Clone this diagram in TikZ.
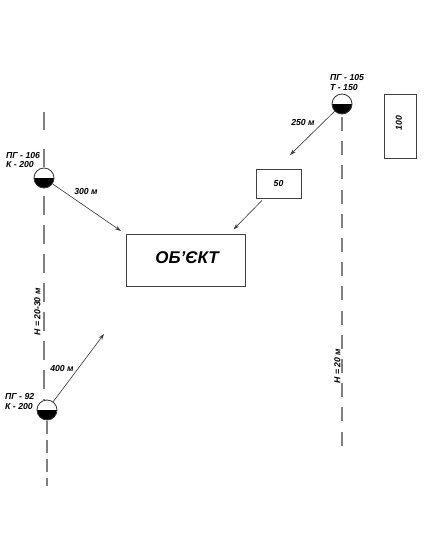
\documentclass[tikz,border=0pt]{standalone}
\usepackage{fontspec}
\setmainfont{Liberation Sans}[Ligatures=ResetAll]
\usetikzlibrary{arrows.meta}

\begin{document}
\begin{tikzpicture}[
    x=1pt, y=-1pt,
    font=\bfseries\itshape\fontsize{8.7}{9.2}\selectfont,
    background/.style={fill=white,draw=none},
    well/.style={draw=black!80,circle,fill=white,minimum size=20pt,inner sep=0pt,line width=0.8pt,
        path picture={\fill[black] (path picture bounding box.west) rectangle (path picture bounding box.south east);}},
    box/.style={draw=black!75,fill=white,line width=0.8pt,inner sep=0pt},
    arrow/.style={-{Stealth[length=6pt,width=4pt]},black!75,line width=0.65pt},
    dashline/.style={black!50,line width=1.3pt},
    note/.style={align=left,anchor=west,inner sep=0pt},
    dist/.style={inner sep=0pt}
]
\path[use as bounding box,background] (0,0) rectangle (434,549);

% free ends of the dashed lines
\coordinate (lefttop) at (44,112);
\coordinate (leftgap) at (44,168);
\coordinate (leftmid) at (44,196);
\coordinate (leftend) at (44,400);
\coordinate (lowerstart) at (47,421);
\coordinate (lowerend) at (47,486);
\coordinate (rightstart) at (342,117);
\coordinate (rightend) at (342,446);
\draw[dashline,dash pattern=on 18pt off 19pt] (lefttop) -- (leftgap);
\draw[dashline,dash pattern=on 19pt off 10pt] (leftmid) -- (leftend);
\draw[dashline,dash pattern=on 13pt off 6pt] (lowerstart) -- (lowerend);
\draw[dashline,dash pattern=on 14pt off 10.2pt] (rightstart) -- (rightend);

\node[well] (well106) at (44,178) {};
\node[well] (well105) at (342,104) {};
\node[well] (well92) at (47,410) {};

\node[box,minimum width=119pt,minimum height=52pt] (object) at (185.5,260) {};
\node[font=\bfseries\itshape\fontsize{17}{18}\selectfont,inner sep=0pt] (objectname) at (187,258) {ОБ'ЄКТ};
\node[box,minimum width=45pt,minimum height=29pt] (box50) at (278.5,183.5) {50};
\node[box,minimum width=32pt,minimum height=64pt] (box100) at (400,126) {};
\node[rotate=90,inner sep=0pt] (name100) at (399,123) {100};

\node[note] (label106) at (6,160) {ПГ - 106\\К - 200};
\node[note] (label105) at (330,82.5) {ПГ - 105\\Т - 150};
\node[note] (label92) at (5,401.5) {ПГ - 92\\К - 200};

% free ends of the arrows
\coordinate (tip106) at (121,231);
\coordinate (tip105) at (290,155);
\coordinate (tip50) at (233.5,229.5);
\coordinate (tip92) at (104,334);
\draw[arrow] (well106) -- (tip106);
\draw[arrow] (well105) -- (tip105);
\draw[arrow,shorten <=3pt] (box50) -- (tip50);
\draw[arrow] (well92) -- (tip92);

\node[dist] (dist300) at (86,191.5) {300 м};
\node[dist] (dist250) at (303,123) {250 м};
\node[dist] (dist400) at (62,368.5) {400 м};
\node[dist,rotate=90] (depthleft) at (37.5,312) {Н = 20-30 м};
\node[dist,rotate=90] (depthright) at (337.5,366) {Н = 20 м};
\end{tikzpicture}
\end{document}
